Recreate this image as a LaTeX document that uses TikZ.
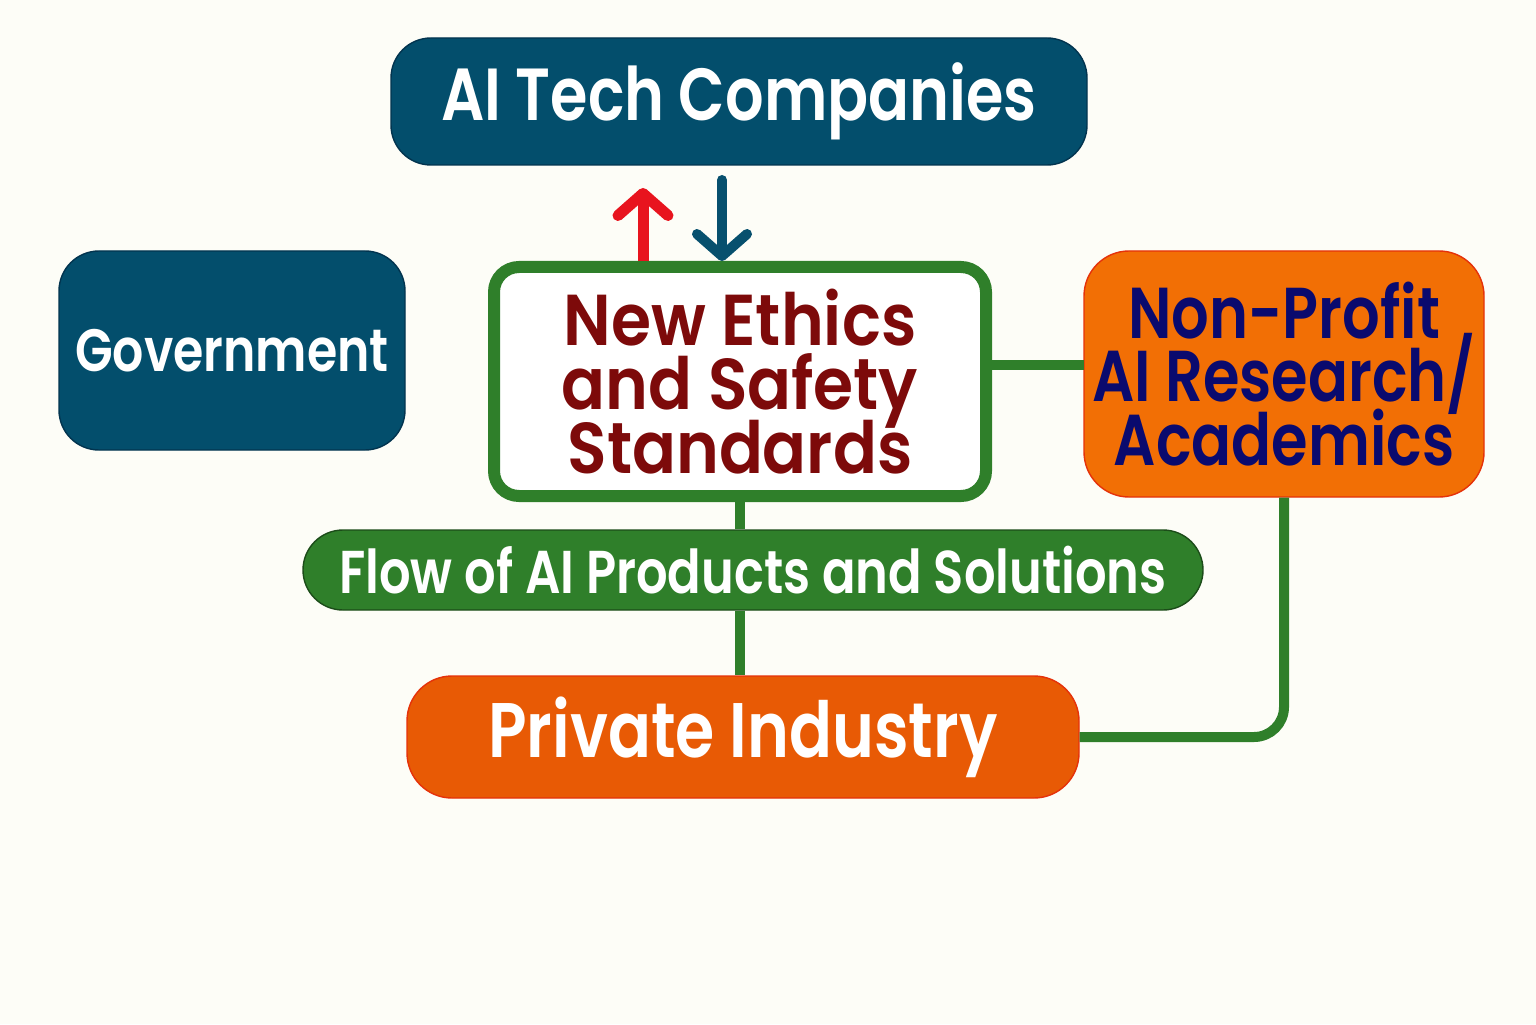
\documentclass[tikz,border=0pt]{standalone}
\usepackage{fontspec}
\setmainfont{Poppins}[BoldFont={Poppins SemiBold}, FakeStretch=0.82]
\newfontfamily\ethicsfont{Poppins}[BoldFont={Poppins SemiBold}, FakeStretch=0.9]
\usetikzlibrary{arrows.meta}
\definecolor{bgcol}{HTML}{FDFDF7}
\definecolor{tealbox}{HTML}{034E6C}
\definecolor{tealedge}{HTML}{02344F}
\definecolor{linkgreen}{HTML}{2F7F2A}
\definecolor{nporange}{HTML}{F26F05}
\definecolor{piorange}{HTML}{E85A05}
\definecolor{boxred}{HTML}{E5320A}
\definecolor{arrowred}{HTML}{E8141E}
\definecolor{arrowblue}{HTML}{07506E}
\definecolor{ethicsred}{HTML}{7D0A0A}
\definecolor{navytext}{HTML}{0A0A6E}
\newcommand{\boxfont}[2]{\fontsize{#1}{#2}\selectfont\bfseries\lineskiplimit=-30pt}

\begin{document}
\begin{tikzpicture}[inner sep=0pt, font=\bfseries,
  tealnode/.style={draw=tealedge, fill=tealbox, text=white, rounded corners=0.4cm, thin},
  orangenode/.style={draw=boxred, fill=#1, rounded corners=0.45cm, thin},
  link/.style={draw=linkgreen, line width=0.1cm},
  barb/.style={-{Straight Barb[length=0.22cm, width=0.5cm, round]}, line width=0.11cm, line cap=round}]
\fill[bgcol] (0,0) rectangle (15.36,10.24);
\useasboundingbox (0,0) rectangle (15.36,10.24);
% boxes
\node (tech) at (7.39,9.225) [tealnode, minimum width=6.96cm, minimum height=1.27cm,
  font=\boxfont{21}{25}] {AI Tech Companies};
\node (gov) at (2.32,6.735) [tealnode, minimum width=3.46cm, minimum height=1.99cm,
  font=\boxfont{17}{21}] {Government};
\node (ethics) at (7.40,6.425) [draw=linkgreen, line width=0.12cm, fill=white, rounded corners=0.25cm,
  minimum width=4.92cm, minimum height=2.29cm, text=ethicsred, align=center,
  font=\ethicsfont\boxfont{20.5}{18.2}] {New Ethics\\and Safety\\Standards};
\node (nonprofit) at (12.84,6.50) [orangenode=nporange, minimum width=4.0cm, minimum height=2.46cm,
  text=navytext, align=center, font=\boxfont{20.5}{18}] {Non-Profit\\AI Research/\\Academics};
\node (flow) at (7.53,4.54) [fill=linkgreen, draw=linkgreen!60!black, thin, rounded corners=0.4cm,
  minimum width=9.0cm, minimum height=0.8cm, text=white, font=\boxfont{17.2}{21}]
  {Flow of AI Products and Solutions};
\node (private) at (7.43,2.87) [orangenode=piorange, minimum width=6.72cm, minimum height=1.22cm,
  text=white, font=\boxfont{22}{26}] {Private Industry};
% helper points
\coordinate (np-in) at (10.84,6.59);
\coordinate (up-end) at (6.43,8.36);
\coordinate (down-start) at (7.22,8.44);
% connectors
\draw[link] (ethics.east |- np-in) -- (np-in);
\draw[link] (ethics.south) -- (ethics.south |- flow.north);
\draw[link] (ethics.south |- flow.south) -- (ethics.south |- private.north);
\draw[link, rounded corners=0.3cm] (nonprofit.south) |- (private.east);
\draw[barb, draw=arrowred, line cap=butt] (ethics.north -| up-end) -- (up-end);
\draw[barb, draw=arrowblue, line width=0.1cm] (down-start) -- (down-start |- ethics.north);
\end{tikzpicture}
\end{document}
